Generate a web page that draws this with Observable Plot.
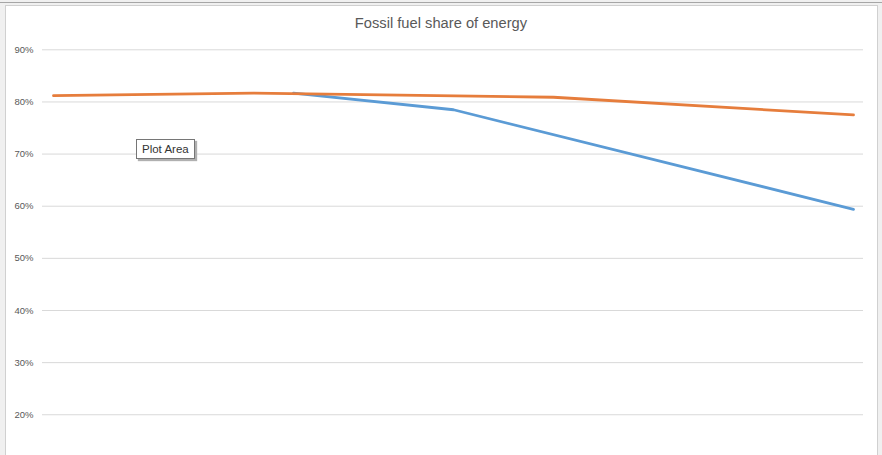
<!DOCTYPE html>
<html>
<head>
<meta charset="utf-8">
<script src="https://cdn.jsdelivr.net/npm/d3@7"></script>
<script src="https://cdn.jsdelivr.net/npm/@observablehq/plot@0.6"></script>
<style>
  html, body { margin: 0; padding: 0; background: #f0f0f0; }
  #wrap { position: relative; width: 882px; height: 455px; overflow: hidden; background: #f0f0f0; }
  #topline { position: absolute; left: 0; top: 2px; width: 882px; height: 1px; background: #a6a6a6; }
  #frame { position: absolute; left: 5px; top: 5px; width: 871px; height: 460px; background: #fff; border: 1px solid #d0d0d0; }
  #chart { position: absolute; left: 0; top: 0; }
  #title { position: absolute; left: 0; top: 15px; width: 882px; text-align: center;
           font-family: "Liberation Sans", Arial, sans-serif; font-size: 14.7px; color: #595959; }
  #tip { position: absolute; left: 136px; top: 139px; padding: 2px 5px 2px 5px;
         background: #fff; border: 1px solid #767676; box-shadow: 2px 2px 1px #b0b0b0;
         font-family: "Liberation Sans", Arial, sans-serif; font-size: 11.5px; color: #333; line-height: 14px; }
</style>
</head>
<body>
<div id="wrap">
  <div id="topline"></div>
  <div id="frame"></div>
  <div id="chart"></div>
  <div id="title">Fossil fuel share of energy</div>
  <div id="tip">Plot Area</div>
</div>
<script>
// Series (share of energy from fossil fuels)
const orangeYears = [2010, 2020, 2035, 2050];
const orangeShare = [0.812, 0.817, 0.809, 0.775];
const blueYears = [2022, 2030, 2050];
const blueShare = [0.817, 0.785, 0.594];
const yTicks = [0.2, 0.3, 0.4, 0.5, 0.6, 0.7, 0.8, 0.9];

const orange = orangeYears.map((year, i) => ({year, share: orangeShare[i]}));
const blue = blueYears.map((year, i) => ({year, share: blueShare[i]}));

const chart = Plot.plot({
  width: 882,
  height: 455,
  marginLeft: 42,
  marginRight: 19,
  marginTop: 0,
  marginBottom: 0,
  style: { background: "transparent", fontFamily: "Liberation Sans, Arial, sans-serif", fontSize: "9.5px", color: "#595959", overflow: "visible" },
  x: { domain: [2010, 2050], range: [53, 853], axis: null },
  y: { domain: [0.1, 0.9], range: [466.4, 49.3], axis: null },
  marks: [
    Plot.gridY(yTicks, { stroke: "#d9d9d9", strokeOpacity: 1, strokeWidth: 1 }),
    Plot.axisY(yTicks, { tickFormat: d3.format(".0%"), tickSize: 0, tickPadding: 9, label: null, fill: "#595959" }),
    Plot.line(blue, { x: "year", y: "share", stroke: "#5B9BD5", strokeWidth: 2.8, strokeLinecap: "round", strokeLinejoin: "round" }),
    Plot.line(orange, { x: "year", y: "share", stroke: "#E67D3C", strokeWidth: 2.8, strokeLinecap: "round", strokeLinejoin: "round" })
  ]
});
document.getElementById("chart").appendChild(chart);
</script>
</body>
</html>
